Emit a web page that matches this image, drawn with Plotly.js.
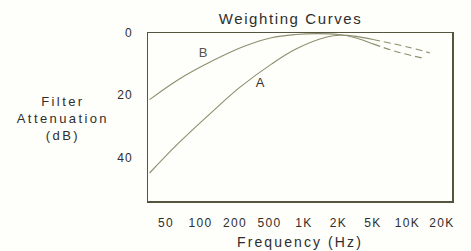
<!DOCTYPE html>
<html><head><meta charset="utf-8">
<script src="https://cdn.plot.ly/plotly-3.0.1.min.js"></script>
<style>
html,body{margin:0;padding:0;background:#fefefa;}
#chart .gtitle{letter-spacing:1.6px;}
#chart .xtick text,#chart .ytick text{letter-spacing:1.3px;}
#chart .xtitle{letter-spacing:2.1px;}
#chart .annotation-text{letter-spacing:2.4px;}
</style></head><body>
<div id="chart" style="width:471px;height:251px;"></div>
<script>
// Axis tick frequencies (evenly spaced on the chart) and labels
const tickFreqs = [50, 100, 200, 500, 1000, 2000, 5000, 10000, 20000];
const tickLabels = ['50', '100', '200', '500', '1K', '2K', '5K', '10K', '20K'];
const yTicks = [0, 20, 40];

// Curve A (Hz, dB attenuation)
const aFreq = [36, 64, 125, 227, 520, 835, 1580, 2075, 3200, 5000];
const aDb   = [45, 35.5, 25.5, 17.5, 10.0, 5.3, 1.3, 0.7, 1.1, 2.1];
const aDashFreq = [5000, 10000, 15700];
const aDashDb   = [2.1, 4.5, 6.4];

// Curve B
const bFreq = [36, 64, 125, 260, 520, 840, 1300, 2000, 3200, 5000];
const bDb   = [21.4, 15.0, 9.1, 4.2, 1.5, 0.5, 0.2, 0.5, 1.6, 3.5];
const bDashFreq = [5000, 8000, 13300];
const bDashDb   = [3.5, 6.0, 8.0];

// Curve labels
const labelText = ['A', 'B'];
const labelFreq = [404, 109];
const labelDb = [16.0, 6.2];

// Map a frequency onto the chart's evenly spaced tick scale
function pos(f) {
  let i = 0;
  while (i < tickFreqs.length - 2 && f > tickFreqs[i + 1]) i++;
  return i + Math.log(f / tickFreqs[i]) / Math.log(tickFreqs[i + 1] / tickFreqs[i]);
}

const lineColor = '#8c8f6e';
const textColor = '#2e2e2e';
const font = 'Liberation Sans, Arial, sans-serif';

const traces = [
  {x: aFreq.map(pos), y: aDb, mode: 'lines', line: {color: lineColor, width: 1.1, shape: 'spline'}, hoverinfo: 'skip'},
  {x: aDashFreq.map(pos), y: aDashDb, mode: 'lines', line: {color: lineColor, width: 1.1, dash: '7px,4px', shape: 'spline'}, hoverinfo: 'skip'},
  {x: bFreq.map(pos), y: bDb, mode: 'lines', line: {color: lineColor, width: 1.1, shape: 'spline'}, hoverinfo: 'skip'},
  {x: bDashFreq.map(pos), y: bDashDb, mode: 'lines', line: {color: lineColor, width: 1.1, dash: '7px,4px', shape: 'spline'}, hoverinfo: 'skip'}
];

const annotations = labelText.map((t, i) => ({
  x: pos(labelFreq[i]), y: labelDb[i], xref: 'x', yref: 'y', text: t, showarrow: false,
  font: {family: font, size: 13, color: i === 0 ? '#333' : '#555'}
}));
annotations.push({
  x: -0.28, y: 0.494, xref: 'paper', yref: 'paper', xanchor: 'center', yanchor: 'middle',
  text: 'Filter<br>Attenuation<br>(dB)', showarrow: false, align: 'center',
  font: {family: font, size: 13, color: textColor}
});

const layout = {
  width: 471, height: 251,
  margin: {l: 148, r: 19, t: 33, b: 50, pad: 0},
  paper_bgcolor: '#fefefa', plot_bgcolor: '#fefefa',
  showlegend: false,
  title: {text: 'Weighting Curves', x: 0.469, xref: 'paper', xanchor: 'center', y: 0.924, yref: 'container', yanchor: 'middle',
          font: {family: font, size: 15, color: textColor}},
  xaxis: {
    range: [-0.52, 8.29], tickvals: tickFreqs.map(pos), ticktext: tickLabels,
    showgrid: false, zeroline: false, showline: true, mirror: true, linecolor: '#55553f', linewidth: 1.5,
    ticks: '', ticklabelstandoff: 10, tickfont: {family: font, size: 12, color: textColor},
    title: {text: 'Frequency (Hz)', standoff: 8, font: {family: font, size: 14, color: textColor}},
    fixedrange: true
  },
  yaxis: {
    range: [54, 0], tickvals: yTicks, ticktext: yTicks.map(String),
    showgrid: false, zeroline: false, showline: true, mirror: true, linecolor: '#55553f', linewidth: 1.5,
    ticks: '', ticklabelstandoff: 11, tickfont: {family: font, size: 12, color: textColor},
    fixedrange: true
  },
  annotations: annotations
};

Plotly.newPlot('chart', traces, layout, {staticPlot: true, displayModeBar: false});
</script>
</body></html>
